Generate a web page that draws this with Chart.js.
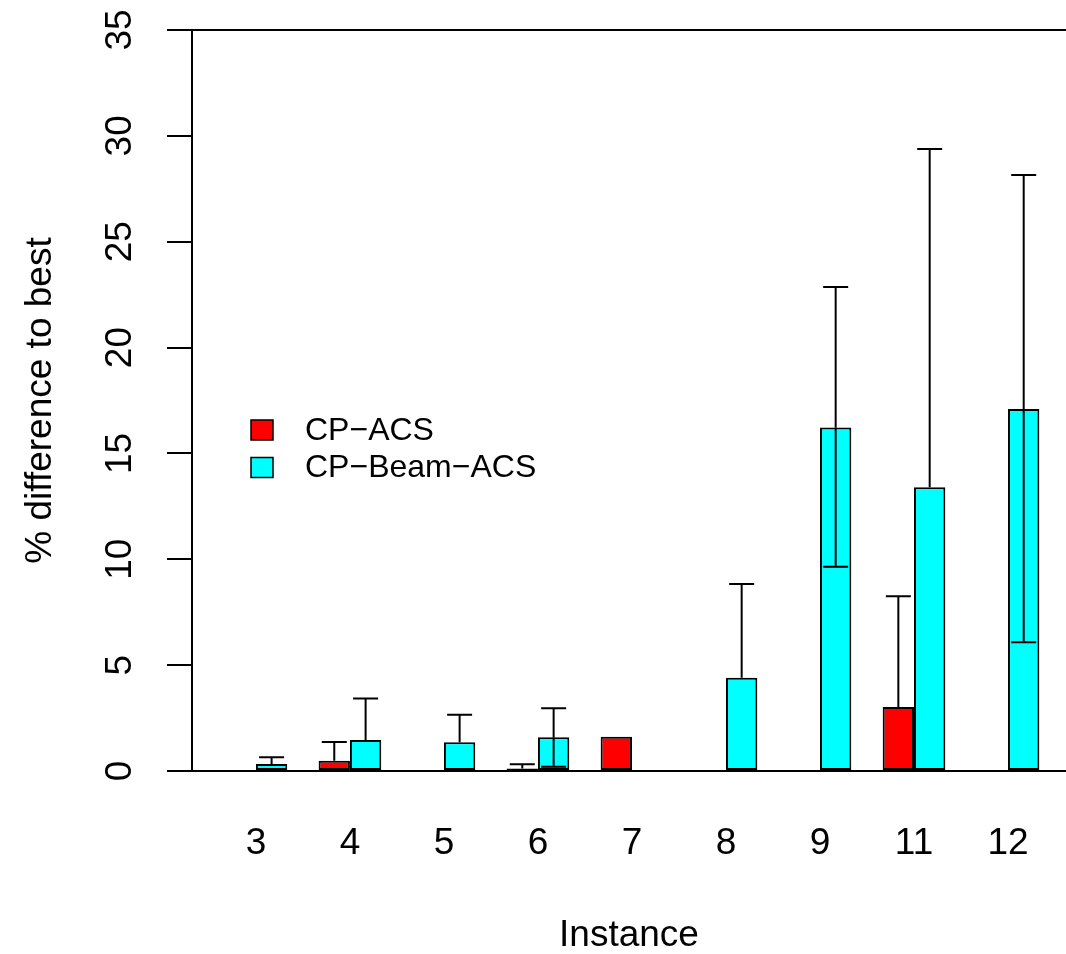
<!DOCTYPE html>
<html>
<head>
<meta charset="utf-8">
<script src="https://cdn.jsdelivr.net/npm/chart.js@4.4.1/dist/chart.umd.min.js"></script>
<style>
  body { margin: 0; background: #fff; overflow: hidden; }
</style>
</head>
<body>
<canvas id="myChart" width="1066" height="954"></canvas>
<script>
// datos
const instancias = ["3", "4", "5", "6", "7", "8", "9", "11", "12"];
const nombres = ["CP\u2212ACS", "CP\u2212Beam\u2212ACS"];
const colores = ["#ff0000", "#00ffff"];

const cpAcs      = [0, 0.49, 0, 0.12, 1.62, 0, 0, 3.02, 0];
const cpAcsSup   = [null, 1.37, null, 0.32, null, null, null, 8.25, null];
const cpAcsInf   = [null, null, null, null, null, null, null, null, null];

const cpBeam     = [0.33, 1.46, 1.36, 1.59, 0, 4.41, 16.23, 13.40, 17.10];
const cpBeamSup  = [0.65, 3.42, 2.66, 2.96, null, 8.83, 22.86, 29.38, 28.15];
const cpBeamInf  = [null, null, null, 0.20, null, null, 9.65, null, 6.08];

const yTicks = [0, 5, 10, 15, 20, 25, 30, 35];

const fuente = "'Liberation Sans', Arial, sans-serif";

// centro de cada grupo (como barplot de R: 2 barras + 1 espacio)
const centro = instancias.map((_, i) => i * 3 + 2);

const errores = [
  { val: cpAcs, sup: cpAcsSup, inf: cpAcsInf },
  { val: cpBeam, sup: cpBeamSup, inf: cpBeamInf }
];

// dibuja caja, errores, etiquetas del eje y y la leyenda
const extras = {
  id: "extras",
  afterDatasetsDraw(chart) {
    const ctx = chart.ctx;
    const y = chart.scales.y;
    const area = chart.chartArea;
    ctx.save();
    ctx.strokeStyle = "#000";
    ctx.lineWidth = 2;
    ctx.lineCap = "butt";

    // barras de error
    errores.forEach((e, d) => {
      const meta = chart.getDatasetMeta(d);
      meta.data.forEach((bar, j) => {
        const base = y.getPixelForValue(e.val[j]);
        [e.sup[j], e.inf[j]].forEach(v => {
          if (v === null) return;
          const py = y.getPixelForValue(v);
          ctx.beginPath();
          ctx.moveTo(bar.x, base);
          ctx.lineTo(bar.x, py);
          ctx.moveTo(bar.x - 12.5, py);
          ctx.lineTo(bar.x + 12.5, py);
          ctx.stroke();
        });
      });
    });

    // linea superior de la caja
    ctx.beginPath();
    ctx.moveTo(area.left - 1, area.top);
    ctx.lineTo(chart.width, area.top);
    ctx.stroke();

    // etiquetas del eje y, giradas
    ctx.fillStyle = "#000";
    ctx.font = "37px " + fuente;
    ctx.textAlign = "center";
    ctx.textBaseline = "alphabetic";
    yTicks.forEach(t => {
      const py = y.getPixelForValue(t);
      ctx.save();
      ctx.translate(131, py);
      ctx.rotate(-Math.PI / 2);
      ctx.fillText(String(t), 0, 0);
      ctx.restore();
    });

    // leyenda
    ctx.font = "32px " + fuente;
    ctx.textAlign = "left";
    ctx.textBaseline = "middle";
    nombres.forEach((n, i) => {
      const cy = 430 + i * 37.5;
      ctx.fillStyle = colores[i];
      ctx.fillRect(251, cy - 10, 22, 20);
      ctx.strokeStyle = "#000";
      ctx.lineWidth = 1.5;
      ctx.strokeRect(251, cy - 10, 22, 20);
      ctx.fillStyle = "#000";
      ctx.fillText(n, 305, cy + 1);
    });
    ctx.restore();
  }
};

const chartDOM = document.getElementById("myChart");

new Chart(chartDOM, {
  type: "bar",
  data: {
    datasets: [
      {
        label: nombres[0],
        data: centro.map((x, i) => ({ x: x, y: cpAcs[i] })),
        backgroundColor: colores[0],
        borderColor: "#000",
        borderWidth: 2,
        borderSkipped: false
      },
      {
        label: nombres[1],
        data: centro.map((x, i) => ({ x: x, y: cpBeam[i] })),
        backgroundColor: colores[1],
        borderColor: "#000",
        borderWidth: 2,
        borderSkipped: false
      }
    ]
  },
  options: {
    responsive: false,
    animation: false,
    layout: { padding: { top: 30, right: 0, left: 0, bottom: 0 } },
    datasets: { bar: { categoryPercentage: 2 / 3, barPercentage: 1 } },
    plugins: {
      legend: { display: false },
      tooltip: { enabled: false }
    },
    scales: {
      x: {
        type: "linear",
        offset: false,
        min: -0.04,
        max: 27.85,
        afterFit: s => { s.height = 183; s.paddingLeft = 0; s.paddingRight = 0; },
        afterBuildTicks: s => { s.ticks = centro.map(v => ({ value: v })); },
        grid: { display: false, drawTicks: false },
        border: { display: true, color: "#000", width: 2 },
        ticks: {
          autoSkip: false,
          maxRotation: 0,
          padding: 51,
          color: "#000",
          font: { family: fuente, size: 37 },
          callback: v => instancias[centro.indexOf(v)]
        },
        title: {
          display: true,
          text: "Instance",
          color: "#000",
          font: { family: fuente, size: 37, lineHeight: 1 },
          padding: { top: 0, bottom: 0 }
        }
      },
      y: {
        min: 0,
        max: 35,
        afterFit: s => { s.width = 192; s.paddingTop = 0; s.paddingBottom = 0; },
        afterBuildTicks: s => { s.ticks = yTicks.map(v => ({ value: v })); },
        grid: {
          drawOnChartArea: false,
          drawTicks: true,
          tickLength: 25,
          color: "#000",
          lineWidth: 2
        },
        border: { display: true, color: "#000", width: 2 },
        ticks: { display: false },
        title: {
          display: true,
          text: "% difference to best",
          color: "#000",
          font: { family: fuente, size: 37, lineHeight: 1.2 },
          padding: { top: 19, bottom: 0 }
        }
      }
    }
  },
  plugins: [extras]
});
</script>
</body>
</html>
